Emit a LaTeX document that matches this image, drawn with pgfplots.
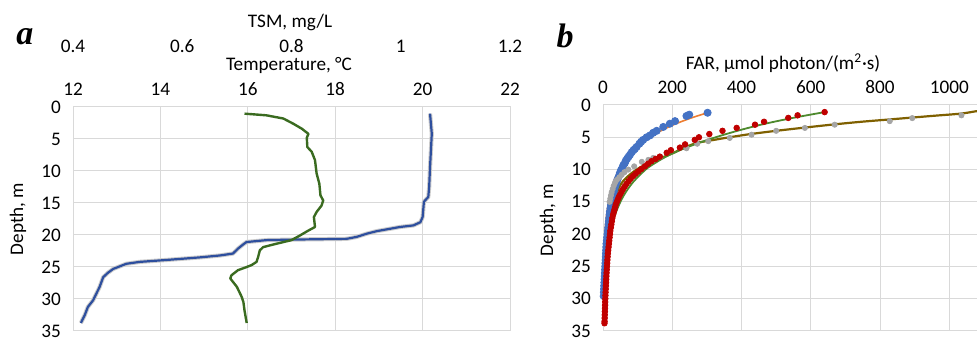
\documentclass[border=0pt]{standalone}
\usepackage{fontspec}
\setmainfont{Carlito}
\newfontfamily\tnr{Liberation Serif}
\usepackage{pgfplots}
\pgfplotsset{compat=1.18}
\definecolor{gridc}{HTML}{D9D9D9}
\definecolor{tline}{HTML}{2E4F9E}
\definecolor{sline}{HTML}{3A6B20}
\definecolor{bdot}{HTML}{4472C4}
\definecolor{rdot}{HTML}{C00000}
\definecolor{gdot}{HTML}{A5A5A5}
\definecolor{ofit}{HTML}{ED7D31}
\definecolor{gfit}{HTML}{4E8A2E}
\definecolor{brfit}{HTML}{7F6000}
\newcommand{\lbl}{\fontsize{9.6}{11}\selectfont}
\pgfplotsset{
  base/.style={scale only axis, y dir=reverse, ymin=0, ymax=35,
    ytick={0,5,...,35}, grid=major, major grid style={gridc, line width=0.5pt},
    axis line style={gridc, line width=0.5pt}, major tick length=0pt,
    tick label style={font=\lbl},
    /pgf/number format/assume math mode=true,
    /pgf/number format/1000 sep={},
    scaled x ticks=false,
    yticklabel style={anchor=east, xshift=-2.5pt},
    xticklabel pos=upper},
}
\begin{document}
\begin{tikzpicture}
\useasboundingbox (0pt,0pt) rectangle (488.5pt,170pt);
% ---------- panel a : temperature ----------
\begin{axis}[base, at={(36.5pt,4.5pt)}, anchor=south west, width=218.5pt, height=112pt,
  xmin=12, xmax=22, xtick={12,14,16,18,20,22},
  xticklabel style={anchor=center, yshift=9pt}]
\addplot[tline, line width=1.1pt, line join=round,
  preaction={draw=black!20, line width=2.1pt}] coordinates {
(20.17,1.04) (20.21,4.17) (20.17,9.4) (20.15,12.5) (20.13,14.06) (20.03,14.8)
(20.0,17.2) (19.95,18.0) (19.79,18.5) (19.48,18.75) (18.95,19.4) (18.72,19.8)
(18.49,20.3) (18.26,20.6) (17.19,20.7) (16.43,20.8) (15.97,21.1) (15.89,21.5)
(15.78,22.1) (15.66,22.9) (15.36,23.2) (14.9,23.5) (14.14,23.9) (13.53,24.2)
(13.22,24.5) (12.92,25.3) (12.8,25.9) (12.69,26.6) (12.61,28.1) (12.46,30.2)
(12.34,31.25) (12.27,32.5) (12.18,33.75)};
\end{axis}
% ---------- panel a : TSM ----------
\begin{axis}[scale only axis, at={(36.5pt,4.5pt)}, anchor=south west, width=218.5pt, height=112pt,
  y dir=reverse, ymin=0, ymax=35, ytick=\empty, xmin=0.4, xmax=1.2,
  xtick={0.4,0.6,0.8,1,1.2}, xticklabels={0.4,0.6,0.8,1,1.2},
  xticklabel pos=upper, axis line style={draw=none}, major tick length=0pt,
  tick label style={font=\lbl},
  xticklabel style={anchor=center, yshift=30.5pt}]
\addplot[sline, line width=1.2pt, line join=round] coordinates {
(0.714,1.04) (0.754,1.3) (0.785,1.8) (0.803,2.6) (0.819,3.4) (0.831,4.2)
(0.828,4.8) (0.829,6.25) (0.837,7.0) (0.843,8.3) (0.846,10.4) (0.851,12.0)
(0.853,13.8) (0.858,14.6) (0.855,15.4) (0.846,16.4) (0.841,17.2) (0.843,18.75)
(0.831,19.3) (0.815,20.1) (0.800,20.8) (0.766,21.5) (0.748,21.9) (0.742,22.4)
(0.739,23.4) (0.736,24.2) (0.727,24.7) (0.718,25.0) (0.702,25.5) (0.690,26.3)
(0.688,26.8) (0.700,28.1) (0.709,29.7) (0.712,30.5) (0.714,31.8) (0.718,33.75)};
\end{axis}
% ---------- panel b : FAR ----------
\begin{axis}[base, at={(301.5pt,4.5pt)}, anchor=south west, width=187pt, height=113pt,
  xmin=0, xmax=1080, xtick={0,200,400,600,800,1000},
  xticklabel style={anchor=center, yshift=9pt}]
% blue dots
\addplot[only marks, mark=*, mark size=1.8pt, mark options={draw=bdot, fill=bdot}] coordinates {
(302,1.2) (249,1.5) (241,1.7) (208,2.5) (193,2.9) (174,3.4) (155,4.0) (145,4.3)
(136,4.7) (126,5.0) (116,5.4) (110,5.7) (105,6.0) (97,6.5) (92,6.8) (88,7.0)
(83,7.3) (78,7.7) (74,8.0) (70,8.3) (66,8.6) (63,9.0) (59,9.3) (56,9.7)
(52,10.1) (49,10.5) (46,11.0) (42,11.5) (39,12.0) (36,12.5) (33,13.0) (31,13.5)
(29,14.0) (27,14.5) (25,15.0) (23,15.5) (21.5,16.0) (20,16.5) (19,17.0) (18,17.5)
(17,18.0) (16,18.5) (15,19.0) (14,19.5) (13,20.0) (12,20.5) (11,21.0) (10,21.5)
(9.5,22.0) (9,22.5) (8.5,23.0) (8,23.5) (7.5,24.0) (7,24.5) (6.5,25.0) (6,25.5)
(5.5,26.0) (5,26.5) (4.5,27.0) (4,27.5) (3.5,28.0) (3,28.5) (2.5,29.0) (2,29.6)};
% gray dots
\addplot[only marks, mark=*, mark size=1.3pt, mark options={draw=gdot, fill=gdot}] coordinates {
(1035,1.6) (893,2.03) (828,2.5) (669,3.05) (583,3.55) (500,4.0) (429,4.6) (366,5.1)
(304,5.6) (272,6.0) (241,6.7) (165,8.0) (145,8.2) (131,8.5) (112,8.8) (90,9.5)
(73,10.0) (62,10.4) (54,10.8) (47,11.2) (40,11.6) (35,12.0) (31,12.5) (28,13.0)
(25,13.5) (23,14.0) (21,14.5) (19,15.0)};
% fits
\addplot[ofit, line width=0.8pt, smooth] coordinates {
(302,1.2) (255,2.0) (206,3.0) (167,4.0) (135,5.0) (109,6.0) (88,7.0) (71,8.0)
(57,9.0) (46,10.0) (30,12.0) (20,14.0) (13,16.0) (8.5,18.0) (5.5,20.0) (3,23)
(1.5,26.5) (0.8,29.6)};
\addplot[brfit, line width=1.1pt, smooth] coordinates {
(1110,0.75) (1077,0.97) (1034,1.33) (960,1.65) (894,1.94) (827,2.24) (745,2.6)
(668,3.0) (582,3.5) (500,4.0) (426,4.5) (365,5.0) (303,5.56) (269,5.9) (231,6.7)
(202,7.45) (154,8.5) (106,9.7) (77,10.8) (58,11.8) (48,12.6) (34,14.3) (28,15.0)};
\addplot[gfit, line width=0.9pt, smooth] coordinates {
(640,1.1) (548,2.0) (460,3.0) (388,4.0) (325,5.0) (270,6.0) (222,7.0) (182,8.0)
(150,9.0) (123,10.0) (86,12.0) (60,14.0) (42,16.0) (29,18.0) (21,20.0) (12,24.0)
(7,28.0) (4.5,31.0) (3,33.8)};
% red dots
\addplot[only marks, mark=*, mark size=1.4pt, mark options={draw=rdot, fill=rdot}] coordinates {
(640,1.1) (562,1.6) (535,2.0) (465,2.6) (439,3.05) (386,3.55) (345,4.0) (307,4.5)
(277,5.0) (265,5.4) (237,6.1) (222,6.6) (196,7.0) (184,7.4) (164,8.0) (152,8.35)
(140,8.7) (130,9.1) (121,9.5) (111,9.9) (102,10.3) (94,10.65) (87,11.0) (80,11.4)
(74,11.8) (68,12.2) (63,12.6) (58,13.0) (54,13.4) (50,13.8) (46,14.2) (43,14.6)
(40,15.0) (37,15.4) (35,15.8) (33,16.2) (31,16.6) (29,17.0) (27,17.5) (25.5,18.0)
(24,18.5) (22.5,19.0) (21,19.5) (20,20.0) (19,20.5) (18,21.0) (17,21.5) (16,22.0)
(15,22.5) (14,23.0) (13.3,23.5) (12.6,24.0) (12,24.5) (11.4,25.0) (10.8,25.5)
(10.2,26.0) (9.7,26.5) (9.2,27.0) (8.7,27.5) (8.2,28.0) (7.8,28.5) (7.4,29.0)
(7,29.5) (6.6,30.0) (6.3,30.5) (6,31.0) (5.7,31.5) (5.4,32.0) (5.1,32.5) (4.8,33.0)
(4.5,33.5) (4.3,33.8)};
\end{axis}
% ---------- titles ----------
\node[font=\tnr\bfseries\itshape\fontsize{17}{17}\selectfont] at (12.5pt,151.5pt) {a};
\node[font=\tnr\bfseries\itshape\fontsize{17}{17}\selectfont] at (282.5pt,152pt) {b};
\node[font=\lbl] at (145pt,159pt) {TSM, mg/L};
\node[font=\lbl] at (144.5pt,137.5pt) {Temperature, °C};
\node[font=\lbl] at (391.5pt,138.5pt) {FAR, µmol photon/(m\textsuperscript{2}·s)};
\node[font=\lbl, rotate=90] at (9pt,60.5pt) {Depth, m};
\node[font=\lbl, rotate=90] at (274pt,60pt) {Depth, m};
\end{tikzpicture}
\end{document}
